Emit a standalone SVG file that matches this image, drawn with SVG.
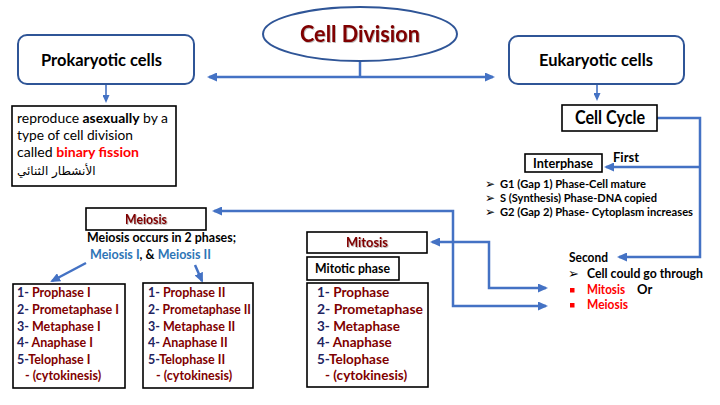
<svg xmlns="http://www.w3.org/2000/svg" width="720" height="405" viewBox="0 0 720 405">
<defs>
<marker id="ah" viewBox="0 0 10 9" refX="8" refY="4.5" markerWidth="10" markerHeight="9" markerUnits="userSpaceOnUse" orient="auto-start-reverse"><path d="M0,0 L10,4.5 L0,9 z" fill="#4472C4"/></marker>
<marker id="ahs" viewBox="0 0 8 7" refX="6" refY="3.5" markerWidth="8" markerHeight="7" markerUnits="userSpaceOnUse" orient="auto-start-reverse"><path d="M0,0 L8,3.5 L0,7 z" fill="#4472C4"/></marker>
<filter id="sh" x="-5%" y="-20%" width="110%" height="140%"><feDropShadow dx="0.8" dy="0.8" stdDeviation="0.6" flood-color="#000" flood-opacity="0.35"/></filter>
<style>
text{font-family:"Lato","Liberation Sans",sans-serif;}
.b{font-weight:bold;}
.dr{fill:#7F0000;font-weight:bold;}
.nv{fill:#1F245F;font-weight:bold;}
.red{fill:#FF0000;font-weight:bold;}
.blue{fill:#2E75B6;font-weight:bold;}
.rbox{fill:#fff;stroke:#2F5597;stroke-width:2;}
.box{fill:#fff;stroke:#000;stroke-width:1.6;}
.con{fill:none;stroke:#4472C4;stroke-width:2.5;}
.sym{font-family:"DejaVu Sans",sans-serif;}
</style>
</defs>
<rect width="720" height="405" fill="#fff"/>

<g id="connectors">
<path class="con" d="M360,61 V77"/>
<path class="con" d="M360,77 H209" marker-end="url(#ah)"/>
<path class="con" d="M360,77 H493" marker-end="url(#ah)"/>
<path class="con" style="stroke-width:1.6" d="M106,84 V101" marker-end="url(#ahs)"/>
<path class="con" style="stroke-width:1.6" d="M597,84 V99" marker-end="url(#ahs)"/>
<path class="con" d="M657,118 H700 V257 H619" marker-end="url(#ah)"/>
<path class="con" d="M700,167 H606" marker-end="url(#ah)"/>
<path class="con" d="M214,211 H453 V306 H546" marker-start="url(#ah)" marker-end="url(#ah)"/>
<path class="con" d="M432,242 H489 V288 H546" marker-start="url(#ah)" marker-end="url(#ah)"/>
<path class="con" d="M86,263 L52,281" marker-end="url(#ah)"/>
<path class="con" d="M195,265 L202,281" marker-end="url(#ah)"/>
</g>

<g id="cell-division">
<ellipse cx="360" cy="34" rx="97" ry="27" fill="#fff" stroke="#2F5597" stroke-width="2"/>
<text x="300" y="42" class="dr" font-size="23" textLength="120" lengthAdjust="spacingAndGlyphs" filter="url(#sh)">Cell Division</text>
</g>

<g id="prokaryotic">
<rect class="rbox" x="18" y="35" width="176" height="49" rx="9"/>
<text x="41" y="66" class="b" font-size="17" textLength="121" lengthAdjust="spacingAndGlyphs">Prokaryotic cells</text>
</g>

<g id="eukaryotic">
<rect class="rbox" x="509" y="36" width="175" height="48" rx="9"/>
<text x="539" y="66" class="b" font-size="17" textLength="114" lengthAdjust="spacingAndGlyphs">Eukaryotic cells</text>
</g>

<g id="binary-fission">
<rect class="box" x="12" y="106" width="164" height="80"/>
<text x="17" y="123" font-size="14" textLength="151" lengthAdjust="spacingAndGlyphs">reproduce <tspan class="b">asexually</tspan> by a</text>
<text x="17" y="140" font-size="14" textLength="116" lengthAdjust="spacingAndGlyphs">type of cell division</text>
<text x="17" y="157" font-size="14" textLength="122" lengthAdjust="spacingAndGlyphs">called <tspan class="red">binary fission</tspan></text>
<text x="17" y="175" font-size="12" style="font-family:'DejaVu Sans',sans-serif">الأنشطار الثنائي</text>
</g>

<g id="cell-cycle">
<rect class="box" x="562" y="105" width="95" height="26"/>
<text x="575" y="124" class="b" font-size="18" textLength="70" lengthAdjust="spacingAndGlyphs">Cell Cycle</text>
</g>

<g id="interphase">
<rect class="box" x="525" y="154" width="77" height="18"/>
<text x="533" y="168" class="b" font-size="13" textLength="60" lengthAdjust="spacingAndGlyphs">Interphase</text>
<text x="613" y="162" class="b" font-size="13" textLength="26" lengthAdjust="spacingAndGlyphs">First</text>
<text class="sym" x="485" y="188" font-size="12">➢</text>
<text x="500" y="188" class="b" font-size="11" textLength="146" lengthAdjust="spacingAndGlyphs">G1 (Gap 1) Phase-Cell mature</text>
<text class="sym" x="485" y="202" font-size="12">➢</text>
<text x="500" y="202" class="b" font-size="11" textLength="157" lengthAdjust="spacingAndGlyphs">S (Synthesis) Phase-DNA copied</text>
<text class="sym" x="485" y="216" font-size="12">➢</text>
<text x="500" y="216" class="b" font-size="11" textLength="193" lengthAdjust="spacingAndGlyphs">G2 (Gap 2) Phase- Cytoplasm increases</text>
</g>

<g id="second">
<text x="569" y="262" class="b" font-size="13" textLength="39" lengthAdjust="spacingAndGlyphs">Second</text>
<text class="sym" x="568" y="278" font-size="13">➢</text>
<text x="587" y="278" class="b" font-size="13" textLength="116" lengthAdjust="spacingAndGlyphs">Cell could go through</text>
<rect x="570" y="288" width="4.5" height="4.5" fill="#FF0000"/>
<text x="587" y="294" class="red" font-size="13" textLength="38" lengthAdjust="spacingAndGlyphs">Mitosis</text>
<text x="637" y="294" class="b" font-size="13">Or</text>
<rect x="570" y="303" width="4.5" height="4.5" fill="#FF0000"/>
<text x="587" y="309" class="red" font-size="13" textLength="41" lengthAdjust="spacingAndGlyphs">Meiosis</text>
</g>

<g id="meiosis">
<rect class="box" x="86" y="208" width="120" height="22"/>
<text x="125" y="224" class="dr" font-size="13" textLength="42" lengthAdjust="spacingAndGlyphs" filter="url(#sh)">Meiosis</text>
<text x="87" y="242" class="b" font-size="12.5" textLength="149" lengthAdjust="spacingAndGlyphs">Meiosis occurs in 2 phases;</text>
<text x="90" y="259" font-size="12.5" textLength="121" lengthAdjust="spacingAndGlyphs"><tspan class="blue">Meiosis I</tspan><tspan class="b">, &amp; </tspan><tspan class="blue">Meiosis II</tspan></text>
</g>

<g id="meiosis-1" font-size="12.5">
<rect class="box" x="13" y="284" width="112" height="104"/>
<text x="17" y="297"><tspan class="nv">1- </tspan><tspan class="dr">Prophase I</tspan></text>
<text x="17" y="314" textLength="102" lengthAdjust="spacingAndGlyphs"><tspan class="nv">2- </tspan><tspan class="dr">Prometaphase I</tspan></text>
<text x="17" y="331"><tspan class="nv">3- </tspan><tspan class="dr">Metaphase I</tspan></text>
<text x="17" y="347"><tspan class="nv">4- </tspan><tspan class="dr">Anaphase I</tspan></text>
<text x="17" y="364"><tspan class="nv">5-</tspan><tspan class="dr">Telophase I</tspan></text>
<text x="25" y="380" class="dr">- (cytokinesis)</text>
</g>

<g id="meiosis-2" font-size="12.5">
<rect class="box" x="143" y="283" width="110" height="105"/>
<text x="148" y="297"><tspan class="nv">1- </tspan><tspan class="dr">Prophase II</tspan></text>
<text x="148" y="314" textLength="103" lengthAdjust="spacingAndGlyphs"><tspan class="nv">2- </tspan><tspan class="dr">Prometaphase II</tspan></text>
<text x="148" y="331"><tspan class="nv">3- </tspan><tspan class="dr">Metaphase II</tspan></text>
<text x="148" y="347"><tspan class="nv">4- </tspan><tspan class="dr">Anaphase II</tspan></text>
<text x="148" y="364"><tspan class="nv">5-</tspan><tspan class="dr">Telophase II</tspan></text>
<text x="156" y="380" class="dr">- (cytokinesis)</text>
</g>

<g id="mitosis">
<rect class="box" x="307" y="232" width="120" height="21"/>
<text x="346" y="247" class="dr" font-size="13" textLength="42" lengthAdjust="spacingAndGlyphs" filter="url(#sh)">Mitosis</text>
</g>

<g id="mitotic-phase">
<rect class="box" x="307" y="257" width="92" height="23"/>
<text x="315" y="273" class="b" font-size="13" textLength="75" lengthAdjust="spacingAndGlyphs">Mitotic phase</text>
</g>

<g id="mitosis-list" font-size="13.5">
<rect class="box" x="307" y="283" width="121" height="104"/>
<text x="317" y="297"><tspan class="nv">1- </tspan><tspan class="dr">Prophase</tspan></text>
<text x="317" y="314" textLength="106" lengthAdjust="spacingAndGlyphs"><tspan class="nv">2- </tspan><tspan class="dr">Prometaphase</tspan></text>
<text x="317" y="331"><tspan class="nv">3- </tspan><tspan class="dr">Metaphase</tspan></text>
<text x="317" y="347"><tspan class="nv">4- </tspan><tspan class="dr">Anaphase</tspan></text>
<text x="317" y="364"><tspan class="nv">5-</tspan><tspan class="dr">Telophase</tspan></text>
<text x="325" y="380" class="dr">- (cytokinesis)</text>
</g>
</svg>
